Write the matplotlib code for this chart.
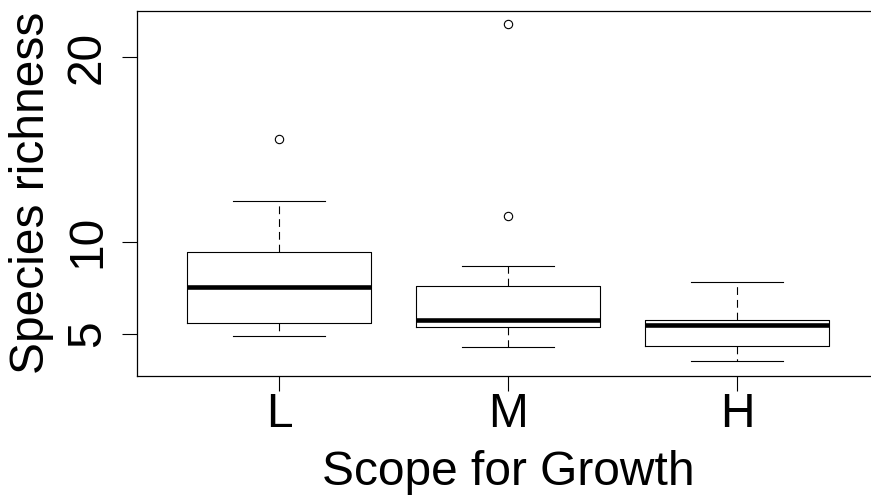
import matplotlib
matplotlib.use("Agg")
import matplotlib.pyplot as plt

plt.rcParams['font.family'] = ['Liberation Sans', 'DejaVu Sans']

# Species richness by scope-for-growth class (box summaries)
groups = ["L", "M", "H"]
whisk_lo = [4.88, 4.30, 3.52]
q1 = [5.58, 5.36, 4.37]
median = [7.53, 5.76, 5.49]
q3 = [9.46, 7.62, 5.76]
whisk_hi = [12.19, 8.68, 7.80]
outliers = [[15.58], [11.39, 21.81], []]

yticks = [5, 10, 20]

stats = []
for i, g in enumerate(groups):
    stats.append(dict(label=g, whislo=whisk_lo[i], q1=q1[i], med=median[i],
                      q3=q3[i], whishi=whisk_hi[i], fliers=outliers[i]))

fig = plt.figure(figsize=(8.71, 4.95), dpi=100)
ax = fig.add_axes([137 / 871, (495 - 375.5) / 495, 742 / 871, 364.5 / 495])

ax.bxp(stats, positions=[1, 2, 3], widths=0.8, capwidths=0.4,
       boxprops=dict(color="black", linewidth=0.8),
       medianprops=dict(color="black", linewidth=3.3, solid_capstyle="butt"),
       whiskerprops=dict(color="black", linewidth=0.8, linestyle=(0, (7, 4.5))),
       capprops=dict(color="black", linewidth=0.8),
       flierprops=dict(marker="o", markersize=6, markerfacecolor="none",
                       markeredgecolor="black", markeredgewidth=0.8))

ax.set_xlim(0.38, 3.62)
ax.set_ylim(2.75, 22.5)
ax.set_yticks(yticks)
ax.set_yticklabels([str(v) for v in yticks], rotation=90, va="center")

for sp in ax.spines.values():
    sp.set_linewidth(0.9)
ax.spines["right"].set_visible(False)

ax.tick_params(axis="both", labelsize=34.5, length=11, width=0.8, color="black")
ax.tick_params(axis="x", pad=1)
ax.tick_params(axis="y", pad=8.5)

ax.set_xlabel("Scope for Growth", fontsize=34.5, labelpad=9)
ax.set_ylabel("Species richness", fontsize=34.5, labelpad=8)

fig.savefig("out.png", dpi=100)
